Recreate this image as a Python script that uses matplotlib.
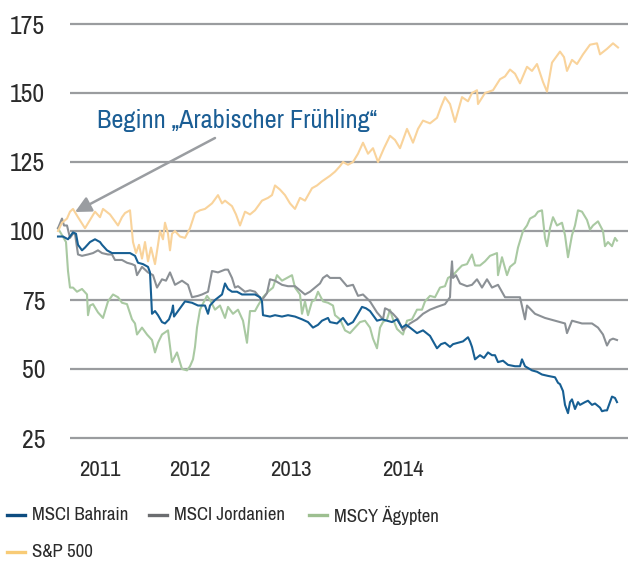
import matplotlib
matplotlib.use("Agg")
import matplotlib.pyplot as plt
from matplotlib.lines import Line2D
from matplotlib.patches import FancyArrowPatch

plt.rcParams['font.family'] = ['Archivo Narrow', 'DejaVu Sans']

# x = Handelstag-Index ab Dezember 2010, y = indexiert (Start = 100)
bahrain_t = [0, 10, 20, 30, 36, 40, 48, 54, 64, 74, 84, 88, 98, 108, 124, 144, 154, 160, 170, 180,
             184, 188, 194, 200, 208, 214, 222, 228, 230, 232, 244, 254, 268, 280, 294, 300, 304, 314, 328, 334,
             340, 348, 358, 368, 380, 394, 404, 408, 410, 424, 434, 448, 460, 474, 488, 500, 510, 520, 528, 540,
             544, 558, 570, 580, 590, 600, 608, 616, 624, 638, 648, 658, 668, 678, 688, 696, 704, 718, 730, 744,
             758, 766, 774, 784, 790, 800, 810, 820, 824, 828, 834, 844, 852, 860, 868, 874, 880, 890, 900, 914,
             924, 928, 934, 948, 958, 968, 980, 994, 1000, 1004, 1010, 1014, 1020, 1024, 1028, 1034, 1040, 1044, 1054, 1060,
             1068, 1074, 1084, 1088, 1094, 1098, 1104, 1108, 1114, 1118]
bahrain = [98, 98, 97, 99.5, 99, 95, 93, 94, 96, 97, 96, 95, 93, 92, 92, 92, 91, 88.5, 88, 87,
           85, 70, 71, 69.5, 67, 66.5, 68, 71, 73, 69, 72, 74.5, 74, 73, 73, 70, 73, 75, 77, 81,
           79, 78, 78, 77, 77, 77, 76, 74.5, 69.5, 69, 69.5, 69, 69.5, 69, 68, 67, 65, 66, 67.5, 68.5,
           67, 66.5, 68.5, 66, 67, 70, 72.5, 72, 71, 67.5, 68, 67.5, 67, 68, 65, 66, 65, 63, 64, 62,
           57.5, 59, 59.5, 58, 59, 59.5, 60, 61.5, 60, 58, 53.5, 55, 54, 56, 55, 55, 52.5, 53, 51.5, 51,
           51, 53.5, 51, 49.5, 49, 48, 47.5, 47, 45, 44.5, 42, 37, 34, 38, 39, 35.5, 38, 37, 38, 38.5,
           37, 37.5, 36, 34.7, 35, 35, 38, 40, 39.5, 38]

jordanien_t = [0, 8, 12, 18, 24, 30, 34, 38, 40, 48, 60, 70, 80, 88, 100, 108, 114, 128, 138, 148,
               154, 158, 168, 180, 190, 198, 208, 216, 224, 234, 248, 260, 268, 280, 288, 300, 308, 320, 334, 340,
               348, 354, 360, 374, 384, 394, 408, 418, 424, 434, 448, 460, 474, 484, 494, 504, 514, 524, 530, 538,
               544, 564, 578, 590, 600, 610, 624, 638, 650, 654, 660, 670, 680, 690, 704, 718, 730, 744, 758, 774,
               784, 786, 788, 790, 796, 804, 818, 828, 838, 848, 858, 868, 880, 894, 908, 924, 934, 938, 954, 974,
               994, 1014, 1018, 1028, 1048, 1068, 1080, 1090, 1098, 1104, 1110, 1118]
jordanien = [101, 104.5, 102, 102, 97.5, 99, 99, 94, 91.5, 91, 91.5, 92, 93, 92, 91.5, 91.5, 89.5, 89.5, 88.5, 88,
             87.5, 84, 87, 85, 84, 79.5, 82.5, 82, 85, 80.5, 82, 80.5, 76, 76.5, 77, 78, 85.5, 85, 86, 86,
             83, 79.5, 80, 78, 78.5, 78, 75, 77.5, 82.5, 82, 80.5, 80, 80, 78.5, 77, 78, 79.5, 81, 83, 84,
             83, 83, 80, 80.5, 76.5, 77, 74.5, 70.5, 68, 72, 71.5, 70, 68, 64, 66.5, 68, 70, 71.5, 72.5, 73.5,
             76, 84, 89, 83, 84, 81, 80, 80.5, 82.5, 79.5, 82.5, 79.5, 80.5, 76, 76, 76, 68, 73, 70, 68.5,
             67.5, 66.5, 63, 67.5, 66.5, 66.5, 65, 62.5, 58.5, 60.5, 61, 60.5]

aegypten_t = [0, 8, 16, 20, 24, 30, 38, 48, 58, 60, 64, 70, 80, 90, 100, 110, 120, 128, 138, 148,
              154, 158, 168, 178, 188, 194, 200, 208, 220, 228, 238, 248, 258, 264, 270, 274, 278, 284, 288, 298,
              304, 314, 324, 334, 340, 350, 360, 370, 378, 384, 394, 400, 410, 420, 430, 438, 448, 458, 468, 474,
              484, 488, 494, 500, 508, 514, 520, 530, 540, 550, 554, 564, 574, 584, 594, 604, 614, 624, 630, 638,
              644, 650, 658, 664, 670, 678, 690, 698, 708, 718, 728, 734, 744, 754, 764, 774, 780, 790, 800, 808,
              818, 828, 834, 844, 854, 864, 878, 880, 888, 898, 904, 914, 920, 930, 938, 944, 954, 960, 968, 974,
              978, 984, 990, 998, 1008, 1014, 1020, 1028, 1034, 1040, 1048, 1058, 1064, 1070, 1080, 1090, 1094, 1100, 1108, 1114,
              1118]
aegypten = [101, 98.5, 96, 85.5, 79.5, 79.5, 78, 79, 77, 69.5, 73, 73.5, 70.5, 68.5, 74.5, 77, 76, 74, 73.5, 68,
            66.5, 62.5, 65, 62.5, 60.5, 56, 59.5, 62.5, 64, 52.5, 56, 50, 49.5, 51, 53.5, 58, 65, 71.5, 73, 76.5,
            75, 71.5, 73, 68.5, 72.5, 70, 71.5, 67.5, 59.5, 71, 71, 73, 76, 78, 79.5, 84, 82, 83, 84, 79.5,
            77, 70, 74.5, 69.5, 74.5, 75, 78, 74.5, 74, 73, 69.5, 68, 64, 63, 65, 67, 67.5, 65, 61, 57.5,
            65, 67, 68, 71.5, 68, 64.5, 62.5, 67.5, 68, 71.5, 71.5, 74.5, 76.5, 76, 79.5, 80, 83, 84, 86, 87.5,
            88, 91.5, 87.5, 87.5, 89, 91, 92, 84, 90.5, 84, 87, 88.5, 94, 100, 102, 104.5, 105.5, 107, 107.5, 97.5,
            94.5, 101, 105, 102, 103, 98.5, 90.5, 98.5, 102, 107.5, 107, 104, 100.5, 102, 103.5, 100, 94.5, 96, 94.5, 97.5,
            96.5]

sp500_t = [0, 8, 18, 24, 30, 40, 54, 64, 74, 84, 90, 104, 112, 120, 128, 134, 144, 150, 156, 162,
           168, 174, 180, 186, 194, 200, 204, 210, 214, 220, 224, 228, 234, 244, 254, 264, 274, 284, 294, 308,
           320, 328, 334, 348, 356, 364, 374, 384, 394, 408, 420, 428, 434, 444, 454, 464, 474, 484, 494, 508,
           518, 528, 544, 554, 564, 570, 580, 590, 600, 610, 620, 630, 640, 652, 664, 674, 684, 698, 710, 720,
           730, 744, 758, 766, 774, 784, 794, 808, 820, 828, 838, 840, 854, 870, 884, 894, 904, 914, 924, 938,
           948, 958, 970, 978, 988, 1004, 1012, 1018, 1028, 1038, 1050, 1064, 1078, 1084, 1098, 1110, 1120]
sp500 = [100, 103, 104.5, 107, 108, 105, 101, 104, 107, 105, 108, 106, 104, 102, 105, 106.5, 107.5, 96, 92, 95,
         90, 96, 89, 94, 88, 95, 100, 97, 103, 99, 93, 99, 100, 98, 97.5, 101, 106.5, 107.5, 108, 110,
         113, 110, 111, 109, 106, 102, 107, 106, 107.5, 111, 112, 113, 116.5, 115, 113, 110, 108, 112, 111, 115.5,
         116.5, 118, 120, 121.5, 123.5, 125, 124, 125, 128, 132, 128, 130, 125, 130, 134.5, 133, 130, 137, 132, 137,
         140, 139, 141, 145, 148.5, 146, 139.5, 148.5, 147, 150, 151, 146, 150, 151, 155, 156, 158.5, 157, 153.5, 159.5,
         158, 160.5, 154, 150.5, 161, 165, 163, 158, 162, 160.5, 164, 167.5, 168, 164, 166, 168, 166.5]

y_ticks = [25, 50, 75, 100, 125, 150, 175]
year_labels = ['2011', '2012', '2013', '2014']
year_pos = [84, 264, 466, 690]

series = [
    ('MSCI Bahrain', bahrain_t, bahrain, '#175F93', '#0D4C80'),
    ('MSCI Jordanien', jordanien_t, jordanien, '#8B9095', '#6B6D70'),
    ('MSCY Ägypten', aegypten_t, aegypten, '#A9C9A2', '#9DBF90'),
    ('S&P 500', sp500_t, sp500, '#F9D39B', '#F8CB76'),
]

fig = plt.figure(figsize=(6.28, 5.62), dpi=100)
ax = fig.add_axes([55 / 628, 1 - 445 / 562, 573 / 628, 430 / 562])
ax.set_xlim(-6, 1140)
ax.set_ylim(25 - 7 / 2.76, 175 + 9 / 2.76)

ax.hlines(y_ticks, 24, 1140, colors='#9A9C9F', lw=1.6, zorder=1)

for name in ['MSCY Ägypten', 'MSCI Jordanien', 'MSCI Bahrain', 'S&P 500']:
    s = [x for x in series if x[0] == name][0]
    ax.plot(s[1], s[2], color=s[3], lw=1.5, zorder=2, solid_joinstyle='round')

for sp in ax.spines.values():
    sp.set_visible(False)
ax.set_yticks(y_ticks)
ax.set_yticklabels([str(v) for v in y_ticks])
ax.set_xticks(year_pos)
ax.set_xticklabels(year_labels)
ax.tick_params(axis='y', length=0, pad=7, labelsize=18.5, labelcolor='#2b2b2b')
ax.tick_params(axis='x', length=0, pad=11, labelsize=16.5, labelcolor='#2b2b2b')

arrow = FancyArrowPatch((215 / 628, 1 - 138 / 562), (75 / 628, 1 - 212 / 562),
                        transform=fig.transFigure, arrowstyle='-|>', color='#9A9DA1',
                        lw=1.8, mutation_scale=24, shrinkA=0, shrinkB=0)
fig.add_artist(arrow)
fig.text(97 / 628, 1 - 120 / 562, 'Beginn \u201eArabischer Fr\u00fchling\u201c', fontsize=19,
         color='#1B5E95', va='center', ha='left')

# Legende
leg_pos = [(7, 515), (149, 515), (309, 515), (7, 552)]
for (name, _, _, _, lc), (lx, ly) in zip(series, leg_pos):
    fig.add_artist(Line2D([lx / 628, (lx + 18) / 628], [1 - ly / 562, 1 - ly / 562],
                          color=lc, lw=2.4, transform=fig.transFigure))
    fig.text((lx + 25) / 628, 1 - ly / 562, name, fontsize=13.5, color='#2b2b2b',
             va='center', ha='left')

fig.savefig('out.png', dpi=100)
